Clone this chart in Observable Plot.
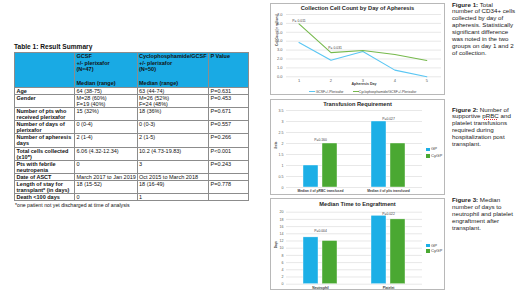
<!DOCTYPE html>
<html><head><meta charset="utf-8">
<script src="https://cdn.jsdelivr.net/npm/d3@7"></script>
<script src="https://cdn.jsdelivr.net/npm/@observablehq/plot@0.6"></script>
<style>
html,body{margin:0;padding:0;background:#fff;}
body{width:520px;height:292px;position:relative;overflow:hidden;font-family:"Liberation Sans",Arial,sans-serif;color:#111;}
#ttitle{position:absolute;left:14px;top:42.5px;font-size:6.6px;font-weight:bold;line-height:8px;white-space:nowrap;}
#tbl{position:absolute;left:14px;top:52px;width:234px;border-collapse:collapse;table-layout:fixed;font-size:5.5px;line-height:6px;}
#tbl td{border:1px solid #8c8c8c;padding:0.1px 1.5px;vertical-align:top;white-space:pre;overflow:hidden;}
#tbl td.lab{font-weight:bold;}
#tbl tr.head td{background:#19aae4;font-weight:bold;font-size:5.5px;line-height:6.6px;padding:0.3px 1.5px;}
#foot{position:absolute;left:15px;top:202px;font-size:5.2px;line-height:6px;white-space:nowrap;}
.box{position:absolute;left:270px;width:173px;border:1px solid #b8b8b8;background:#fff;}
.box svg{position:absolute;left:0;top:0;}
.ctitle{position:absolute;left:0;width:100%;text-align:center;font-weight:bold;font-size:5.7px;line-height:6px;color:#262626;white-space:nowrap;}
.cap{position:absolute;left:452px;font-size:6.2px;line-height:6.9px;color:#1a1a1a;white-space:nowrap;}
.lg{position:absolute;font-size:3.4px;line-height:4px;color:#404040;white-space:nowrap;}
.sw{position:absolute;height:1.2px;}
.sq{position:absolute;width:3.5px;height:3.5px;}
.lg2{position:absolute;font-size:4.2px;line-height:4px;color:#404040;white-space:nowrap;}
.wavy{text-decoration:underline dotted #e03030;text-decoration-thickness:0.5px;text-underline-offset:0.8px;}
</style>
</head><body>
<div id="ttitle">Table 1: Result Summary</div>
<table id="tbl"><colgroup><col style="width:60px"><col style="width:62.5px"><col style="width:71.5px"><col style="width:40px"></colgroup><tbody id="tb"></tbody></table>
<div id="foot"></div>

<div class="box" id="b1" style="top:3px;height:90px;"><div class="ctitle" style="top:0.5px;">Collection Cell Count by Day of Apheresis</div></div>
<div class="box" id="b2" style="top:99px;height:94px;"><div class="ctitle" style="top:1.3px;">Transfusion Requirement</div></div>
<div class="box" id="b3" style="top:198px;height:90px;"><div class="ctitle" style="top:2px;">Median Time to Engraftment</div></div>

<div class="cap" style="top:1.5px;"><b>Figure 1:</b> Total<br>number of CD34+ cells<br>collected by day of<br>apheresis. Statistically<br>significant difference<br>was noted in the two<br>groups on day 1 and 2<br>of collection.</div>
<div class="cap" style="top:106.5px;"><b>Figure 2:</b> Number of<br>supportive <span class="wavy">pRBC</span> and<br>platelet transfusions<br>required during<br>hospitalization post<br>transplant.</div>
<div class="cap" style="top:197.2px;"><b>Figure 3:</b> Median<br>number of days to<br>neutrophil and platelet<br>engraftment after<br>transplant.</div>

<script>
// ---------- Table data ----------
const tableHeaders = ["", "GCSF\n+/- plerixafor\n(N=47)\n\nMedian (range)", "Cyclophosphamide/GCSF\n+/- plerixafor\n(N=50)\n\nMedian (range)", "P Value"];
const rowLabels = ["Age", "Gender", "Number of pts who\nreceived plerixafor", "Number of days of\nplerixafor", "Number of apheresis\ndays", "Total cells collected\n(x10\u2078)", "Pts with febrile\nneutropenia", "Date of ASCT", "Length of stay for\ntransplant* (in days)", "Death <100 days"];
const gcsfValues = ["64 (38-75)", "M=28 (60%)\nF=19 (40%)", "15 (32%)", "0 (0-4)", "2 (1-4)", "6.06 (4.32-12.34)", "0", "March 2017 to Jan 2019", "18 (15-52)", "0"];
const cyValues = ["63 (44-74)", "M=26 (52%)\nF=24 (48%)", "18 (36%)", "0 (0-3)", "2 (1-5)", "10.2 (4.73-19.83)", "3", "Oct 2015 to March 2018", "18 (16-49)", "1"];
const pValues = ["P=0.631", "P=0.453", "P=0.671", "P=0.557", "P=0.266", "P<0.001", "P=0.243", "", "P=0.778", ""];
const footnote = "*one patient not yet discharged at time of analysis";

// ---------- Chart 1 data ----------
const apheresisDays = [1, 2, 3, 4, 5];
const gpCells = [3.85, 1.87, 2.85, 0.75, 0];
const cyCells = [5.95, 2.72, 2.95, 2.5, 1.83];
const lineSeries = ["GCSF+/-Plerixafor", "Cyclophosphamide/GCSF+/-Plerixafor"];
const cellTicks = [0, 1, 2, 3, 4, 5, 6, 7];
const cellPDay = [1, 2.13];
const cellPY = [6.3, 3.3];
const cellPLabels = ["P= 0.011", "P= 0.031"];

// ---------- Chart 2 data ----------
const groups = ["GP", "CyGP"];
const transCats = ["Median # of pRBC transfused", "Median # of plts transfused"];
const transGP = [1, 3];
const transCy = [2, 2];
const transTicks = [0, 0.5, 1, 1.5, 2, 2.5, 3, 3.5];
const transPLabels = ["P=0.160", "P=0.027"];
const transPY = [2.17, 3.12];

// ---------- Chart 3 data ----------
const engCats = ["Neutrophil", "Platelet"];
const engGP = [13, 19];
const engCy = [12, 18];
const engTicks = [0, 2, 4, 6, 8, 10, 12, 14, 16, 18, 20];
const engPLabels = ["P=0.004", "P=0.022"];
const engPY = [14.7, 19.6];

const lineColors = ["#5ac6f3", "#76b94c"];
const barColors = ["#1cafe6", "#4aa832"];
const FONT = "Liberation Sans, Arial, sans-serif";

// ---------- Build table ----------
const tb = document.getElementById("tb");
const hr = document.createElement("tr"); hr.className = "head"; hr.style.height = "34px";
tableHeaders.forEach(h => { const td = document.createElement("td"); td.textContent = h; hr.appendChild(td); });
tb.appendChild(hr);
rowLabels.forEach((lab, i) => {
  const tr = document.createElement("tr");
  [lab, gcsfValues[i], cyValues[i], pValues[i]].forEach((v, j) => {
    const td = document.createElement("td"); td.textContent = v; if (j === 0) td.className = "lab"; tr.appendChild(td);
  });
  tb.appendChild(tr);
});
document.getElementById("foot").textContent = footnote;

// ---------- Chart 1 ----------
const lineData = apheresisDays.flatMap((d, i) => [
  {day: d, v: gpCells[i], s: lineSeries[0]},
  {day: d, v: cyCells[i], s: lineSeries[1]}
]);
const cellP = cellPLabels.map((t, i) => ({x: cellPDay[i], y: cellPY[i], t}));
const c1 = Plot.plot({
  width: 173, height: 90, marginLeft: 15, marginRight: 3, marginTop: 10, marginBottom: 17.7,
  style: {fontFamily: FONT, background: "transparent", overflow: "visible"},
  x: {type: "linear", domain: [1, 5], insetLeft: 12.5, insetRight: 14.7},
  y: {domain: [0, 7]},
  color: {domain: lineSeries, range: lineColors},
  marks: [
    Plot.gridY({ticks: cellTicks, stroke: "#dedede", strokeOpacity: 1, strokeWidth: 0.7}),
    Plot.axisY({ticks: cellTicks, tickSize: 0, tickPadding: 4, fontSize: 4, fill: "#595959", label: null}),
    Plot.axisX({ticks: apheresisDays, tickSize: 0, tickPadding: 2.5, fontSize: 4, fill: "#595959", label: null, tickFormat: d => String(d)}),
    Plot.text(["Apheresis Day"], {frameAnchor: "bottom", dy: 8, fontSize: 3.6, fontWeight: "bold", fill: "#404040"}),
    Plot.text(["Cell Count (in millions)"], {frameAnchor: "left", rotate: -90, dx: -9, fontSize: 2.9, fontWeight: "bold", fill: "#404040"}),
    Plot.line(lineData, {x: "day", y: "v", z: "s", stroke: "s", strokeWidth: 1.1}),
    Plot.text(cellP, {x: "x", y: "y", text: "t", fontSize: 3.4, fill: "#404040"})
  ]
});
document.getElementById("b1").appendChild(c1);

// legend chart 1
(function(){
  const b = document.getElementById("b1");
  const items = [[38, 44.7, lineColors[0], lineSeries[0]], [82, 87.7, lineColors[1], lineSeries[1]]];
  items.forEach(([sx, tx, c, t]) => {
    const s = document.createElement("div"); s.className = "sw";
    s.style.cssText = `left:${sx}px;top:87px;width:5.5px;background:${c};`; b.appendChild(s);
    const l = document.createElement("div"); l.className = "lg"; l.style.left = tx + "px"; l.style.top = "85.6px"; l.textContent = t; b.appendChild(l);
  });
})();

// ---------- Bar chart helper ----------
function barChart(boxId, cats, gpVals, cyVals, ticks, yMax, pLabels, pY, yTitle, dims) {
  const data = cats.flatMap((c, i) => [{cat: c, g: groups[0], v: gpVals[i]}, {cat: c, g: groups[1], v: cyVals[i]}]);
  const pData = pLabels.map((t, i) => ({cat: cats[i], y: pY[i], t}));
  const svg = Plot.plot({
    width: 173, height: dims.h, marginLeft: 15, marginRight: 22, marginTop: dims.mt, marginBottom: dims.mb,
    style: {fontFamily: FONT, background: "transparent", overflow: "visible"},
    fx: {domain: cats, padding: 0, label: null},
    x: {domain: groups, paddingInner: 0.235, paddingOuter: 0.82, axis: null},
    y: {domain: [0, yMax]},
    color: {domain: groups, range: barColors},
    marks: [
      Plot.gridY({ticks, stroke: "#dedede", strokeOpacity: 1, strokeWidth: 0.7}),
      Plot.axisY({ticks, tickSize: 0, tickPadding: 3, fontSize: 3.6, fill: "#595959", label: null, tickFormat: d => String(d)}),
      Plot.axisFx({anchor: "bottom", tickSize: 0, tickPadding: 2.5, fontSize: 3.3, fontWeight: "bold", fill: "#404040", label: null}),
      Plot.barY(data, {fx: "cat", x: "g", y: "v", fill: "g", stroke: "#fff", strokeWidth: 0.4}),
      Plot.text(pData, {fx: "cat", y: "y", text: "t", fontSize: 3.4, fill: "#404040"}),
      Plot.text([{cat: cats[0], t: yTitle}], {fx: "cat", text: "t", frameAnchor: "left", rotate: -90, dx: -10, fontSize: 3, fontWeight: "bold", fill: "#404040"})
    ]
  });
  const b = document.getElementById(boxId);
  b.appendChild(svg);
  groups.forEach((g, i) => {
    const s = document.createElement("div"); s.className = "sq";
    s.style.cssText = `left:155.3px;top:${dims.lgY[i] - 1.75}px;background:${barColors[i]};`; b.appendChild(s);
    const l = document.createElement("div"); l.className = "lg2"; l.style.left = "160px"; l.style.top = (dims.lgY[i] - 2) + "px"; l.textContent = g; b.appendChild(l);
  });
}
barChart("b2", transCats, transGP, transCy, transTicks, 3.5, transPLabels, transPY, "Units", {h: 94, mt: 10, mb: 7, lgY: [49.3, 56]});
barChart("b3", engCats, engGP, engCy, engTicks, 20, engPLabels, engPY, "Days", {h: 90, mt: 12.7, mb: 5.3, lgY: [46.7, 52]});
</script>
</body></html>
